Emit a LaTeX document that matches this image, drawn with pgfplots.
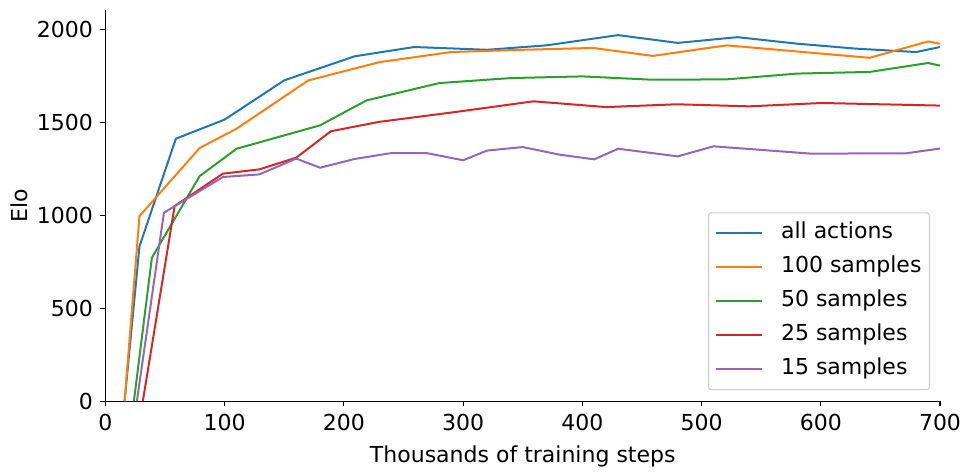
\documentclass[border=0pt]{standalone}
\usepackage{fontspec}
\setmainfont{DejaVu Sans}
\usepackage{pgfplots}
\pgfplotsset{compat=1.18}
\definecolor{c1}{HTML}{1F77B4}
\definecolor{c2}{HTML}{FF7F0E}
\definecolor{c3}{HTML}{2CA02C}
\definecolor{c4}{HTML}{D62728}
\definecolor{c5}{HTML}{9467BD}
\begin{document}
\fontsize{22bp}{26bp}\selectfont
\begin{tikzpicture}
\begin{axis}[
  scale only axis, width=834.5bp, height=391.3bp,
  xmin=0, xmax=700, ymin=0, ymax=2104,
  axis x line*=bottom, axis y line*=left,
  axis line style={line width=1.1bp, -},
  xtick={0,100,...,700}, ytick={0,500,...,2000},
  tick align=outside, major tick length=5bp,
  tick style={black, line width=1.1bp},
  /pgf/number format/assume math mode=true,
  /pgf/number format/1000 sep={},
  tick label style={font=\fontsize{22bp}{26bp}\selectfont},
  label style={font=\fontsize{22bp}{26bp}\selectfont},
  xlabel={Thousands of training steps}, ylabel={Elo},
  ylabel shift=-6bp,
  legend cell align=left,
  legend style={at={(0.988,0.483)}, anchor=north east, draw=black!20, rounded corners=3bp,
    line width=1bp, fill=white, inner xsep=6bp, inner ysep=8bp, row sep=9bp,
    font=\fontsize{22bp}{26bp}\selectfont,
    nodes={text height=16bp, text depth=5bp},
    /tikz/every odd column/.append style={column sep=16.5bp}},
  legend image code/.code={\draw[#1, line width=2bp] (0bp,0bp) -- (46bp,0bp);},
  every axis plot/.append style={line width=2bp},
]
\addplot[c1] coordinates {(16,0)(28.5,833)(59,1412)(100,1515)(150,1726)(209,1855)(259,1905)(320,1890)(370,1914)(430,1969)(480,1927)(530,1958)(580,1923)(630,1896)(680,1878)(700,1905)};
\addlegendentry{all actions}
\addplot[c2] coordinates {(16,0)(28.5,996)(79,1362)(110,1466)(170,1725)(230,1824)(290,1878)(350,1890)(409,1900)(459,1857)(521,1914)(641,1847)(690,1935)(700,1923)};
\addlegendentry{100 samples}
\addplot[c3] coordinates {(23.8,0)(38.9,772)(79,1211)(110,1358)(180,1484)(219,1618)(280,1711)(340,1738)(400,1747)(459,1729)(521,1731)(580,1762)(641,1771)(690,1819)(700,1805)};
\addlegendentry{50 samples}
\addplot[c4] coordinates {(31.3,0)(58,1050)(98.5,1224)(129,1247)(160,1310)(189,1452)(229,1502)(294,1556)(359,1613)(420,1582)(479,1597)(540,1586)(601,1604)(700,1590)};
\addlegendentry{25 samples}
\addplot[c5] coordinates {(26.3,0)(49,1014)(98.5,1206)(129,1220)(160,1305)(180,1256)(209,1303)(240,1335)(269,1335)(300,1296)(320,1348)(350,1367)(381,1326)(410,1301)(430,1358)(480,1317)(510,1371)(591,1332)(671,1333)(700,1359)};
\addlegendentry{15 samples}
\end{axis}
\pgfresetboundingbox
\path[use as bounding box] (current axis.south west) ++(-105.5bp,-70.7bp) rectangle ++(971bp,472bp);
\end{tikzpicture}
\end{document}
